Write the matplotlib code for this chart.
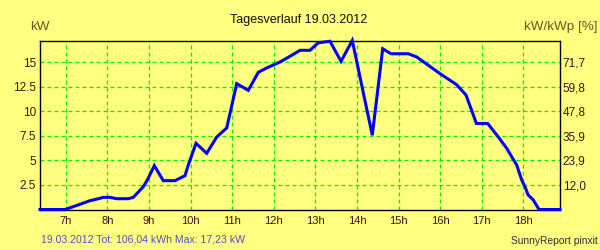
import matplotlib
matplotlib.use("Agg")
import matplotlib.pyplot as plt

plt.rcParams['font.family'] = ['Liberation Sans', 'DejaVu Sans']

# power curve, time in decimal hours, power in kW
hours = [6.382, 6.983, 7.183, 7.584, 7.825, 7.904, 8.065, 8.226, 8.505, 8.625,
         8.865, 8.962, 9.130, 9.346, 9.627, 9.867, 9.947, 10.132, 10.389, 10.630,
         10.870, 11.111, 11.389, 11.630, 11.832, 12.151, 12.392, 12.632, 12.873, 13.072,
         13.353, 13.618, 13.889, 14.370, 14.620, 14.820, 15.236, 15.438, 15.998, 16.399,
         16.623, 16.873, 17.144, 17.361, 17.601, 17.721, 17.841, 17.962, 18.053, 18.113,
         18.240, 18.377, 18.882]
power_kw = [0.0, 0.0, 0.29, 0.90, 1.14, 1.24, 1.24, 1.10, 1.10, 1.24,
            2.32, 3.01, 4.47, 2.94, 2.94, 3.45, 4.54, 6.75, 5.73, 7.39,
            8.31, 12.83, 12.15, 13.99, 14.43, 15.04, 15.62, 16.23, 16.23, 17.0,
            17.15, 15.11, 17.23, 7.57, 16.39, 15.88, 15.88, 15.55, 13.85, 12.72,
            11.67, 8.77, 8.77, 7.6, 6.24, 5.38, 4.54, 3.0, 2.2, 1.5,
            0.97, 0.0, 0.0]

x_ticks = list(range(7, 19))
x_labels = [f"{h}h" for h in x_ticks]
y_ticks = [2.5, 5, 7.5, 10, 12.5, 15]
y_labels = ["2.5", "5", "7.5", "10", "12.5", "15"]
pct_labels = ["12,0", "23,9", "35,9", "47,8", "59,8", "71,7"]

bg = "#ffff80"
grid_green = "#00f000"
tick_col = "#401010"
label_col = "#6b5a1e"

fig = plt.figure(figsize=(6, 2.5), dpi=100, facecolor=bg)
ax = fig.add_axes([40/600, 1 - 209.5/250, 520/600, (209.5 - 40.8)/250])
ax.set_facecolor(bg)

ax.plot(hours, power_kw, color="#0000ff", linewidth=2.2, clip_on=False, zorder=5,
        solid_joinstyle="miter")

ax.set_xlim(6.382, 18.882)
ax.set_ylim(0, 17.2)
ax.set_xticks(x_ticks)
ax.set_xticklabels(x_labels)
ax.set_yticks(y_ticks)
ax.set_yticklabels(y_labels)
ax.grid(True, color=grid_green, linewidth=0.9, linestyle=(0, (3.2, 2.4)))
ax.tick_params(axis="both", length=0, colors=tick_col)
ax.tick_params(axis="y", labelsize=8.5, pad=3)
ax.tick_params(axis="x", labelsize=8, pad=5)
for s in ax.spines.values():
    s.set_color("black")
    s.set_linewidth(1.0)

ax2 = ax.twinx()
ax2.set_ylim(ax.get_ylim())
ax2.set_yticks(y_ticks)
ax2.set_yticklabels(pct_labels)
ax2.tick_params(axis="y", length=0, labelsize=8.5, pad=2, colors=tick_col)
for s in ax2.spines.values():
    s.set_visible(False)

fig.text(299/600, 1 - 20/250, "Tagesverlauf 19.03.2012", ha="center", va="center",
         fontsize=9, color="#1a0a00")
fig.text(40/600, 1 - 27/250, "kW", ha="center", va="center", fontsize=9.7, color=label_col)
fig.text(597/600, 1 - 27/250, "kW/kWp [%]", ha="right", va="center", fontsize=9.7,
         color=label_col)
fig.text(41/600, 1 - 239.5/250, "19.03.2012 Tot: 106,04 kWh Max: 17,23 kW",
         ha="left", va="center", fontsize=7.6, color="#5050c8")
fig.text(598/600, 1 - 241.5/250, "SunnyReport pinxit", ha="right", va="center",
         fontsize=7.4, color="#303030")

fig.savefig("out.png", dpi=100, facecolor=bg)
